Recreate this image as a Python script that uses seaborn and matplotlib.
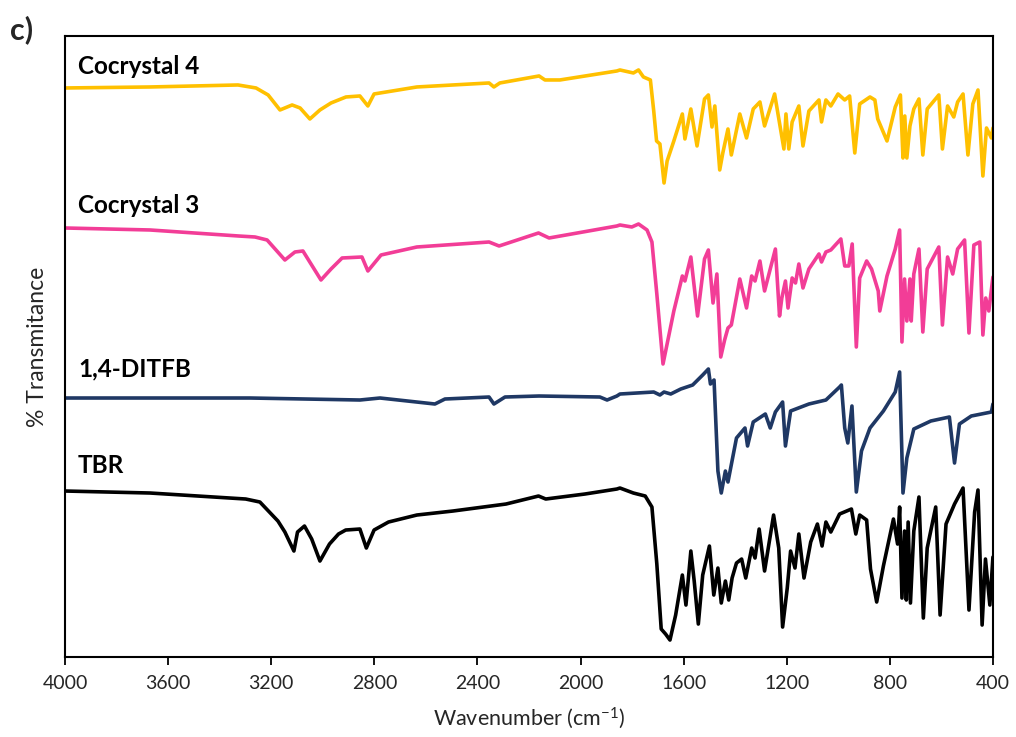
import numpy as np
import pandas as pd
import matplotlib
matplotlib.use("Agg")
import matplotlib.pyplot as plt
import seaborn as sns

# ---- FTIR spectra (wavenumber in cm-1, stacked transmittance in offset units) ----
cocrystal4_wn = [4000, 3670, 3329, 3259, 3212, 3166, 3119, 3088, 3050, 3011, 2968, 2910,
                 2856, 2825, 2801, 2635, 2355, 2336, 2313, 2161, 2138, 2080, 1859, 1847,
                 1795, 1775, 1756, 1729, 1716, 1705, 1692, 1676, 1664, 1638, 1605, 1595,
                 1572, 1548, 1519, 1504, 1490, 1479, 1460, 1448, 1428, 1415, 1382, 1356,
                 1330, 1304, 1286, 1247, 1211, 1203, 1192, 1179, 1153, 1137, 1114, 1075,
                 1065, 1048, 1029, 1001, 975, 956, 936, 917, 877, 858, 847, 811, 779, 759,
                 749, 742, 734, 722, 707, 687, 672, 655, 610, 596, 576, 552, 537, 516, 497,
                 478, 458, 439, 425, 406, 400]
cocrystal4_t = [56.9, 57.0, 57.2, 56.9, 56.2, 54.7, 55.2, 54.9, 53.8, 54.7, 55.4, 56.0,
                56.1, 55.1, 56.3, 57.0, 57.4, 57.0, 57.4, 58.1, 57.7, 57.7, 58.6, 58.7,
                58.4, 58.7, 58.0, 57.7, 54.6, 51.6, 51.3, 47.4, 49.6, 51.6, 54.3, 51.8,
                54.8, 51.1, 55.8, 56.2, 53.0, 55.1, 48.7, 50.4, 52.8, 50.2, 54.3, 51.9,
                54.8, 55.5, 53.1, 56.3, 50.8, 54.3, 50.8, 53.5, 55.1, 51.1, 54.6, 55.7,
                53.5, 55.7, 55.1, 56.3, 55.7, 56.1, 50.4, 55.3, 56.0, 55.7, 53.8, 51.6,
                55.0, 56.2, 49.9, 54.1, 49.9, 53.1, 54.8, 55.8, 50.2, 54.8, 56.2, 50.8,
                55.1, 54.0, 55.5, 56.3, 50.2, 55.3, 56.7, 48.1, 52.9, 51.9, 52.9]

cocrystal3_wn = [4000, 3670, 3327, 3263, 3216, 3147, 3108, 3077, 3007, 2968, 2925, 2848,
                 2825, 2774, 2635, 2355, 2316, 2163, 2122, 1859, 1847, 1801, 1775, 1742,
                 1723, 1704, 1680, 1657, 1638, 1605, 1595, 1572, 1546, 1519, 1504, 1486,
                 1471, 1456, 1441, 1428, 1415, 1382, 1356, 1336, 1323, 1304, 1286, 1244,
                 1228, 1219, 1205, 1195, 1179, 1166, 1153, 1137, 1114, 1075, 1065, 1048,
                 1029, 990, 975, 959, 946, 930, 917, 890, 871, 845, 839, 811, 779, 762,
                 753, 743, 734, 722, 717, 707, 687, 672, 655, 610, 596, 576, 556, 537,
                 510, 493, 474, 451, 439, 428, 416, 400]
cocrystal3_t = [42.9, 42.7, 42.1, 42.0, 41.7, 39.7, 40.5, 40.6, 37.7, 38.8, 39.9, 40.0,
                38.6, 40.2, 41.0, 41.5, 41.1, 42.4, 41.9, 43.1, 43.2, 43.0, 43.3, 42.7,
                41.5, 36.3, 29.3, 32.2, 34.6, 38.1, 37.6, 40.0, 34.1, 39.8, 40.7, 35.4,
                38.3, 30.0, 31.7, 32.9, 33.2, 37.8, 34.9, 38.1, 37.6, 39.6, 36.6, 40.8,
                34.1, 35.9, 37.6, 34.9, 37.9, 37.4, 39.3, 36.9, 38.8, 40.3, 39.5, 40.5,
                40.7, 41.8, 39.1, 39.1, 41.3, 31.0, 37.9, 39.6, 38.8, 36.6, 34.6, 38.1,
                40.8, 42.7, 31.5, 37.8, 33.6, 37.8, 33.6, 38.3, 40.8, 32.5, 38.8, 41.0,
                33.2, 40.0, 38.3, 40.8, 41.7, 32.4, 41.2, 41.5, 32.2, 35.9, 34.6, 38.0]

ditfb_wn = [4000, 3282, 2856, 2778, 2565, 2526, 2355, 2336, 2293, 2161, 1925, 1897, 1859,
            1847, 1716, 1692, 1676, 1650, 1611, 1565, 1526, 1504, 1496, 1482, 1467, 1454,
            1438, 1428, 1395, 1362, 1352, 1330, 1283, 1264, 1244, 1216, 1205, 1185, 1114,
            1048, 995, 988, 975, 963, 947, 930, 910, 877, 825, 779, 762, 749, 734, 707,
            641, 569, 549, 530, 484, 406, 400]
ditfb_t = [25.9, 25.9, 25.7, 25.9, 25.3, 25.8, 26.0, 25.3, 26.0, 26.1, 26.0, 25.7, 26.1,
           26.3, 26.5, 26.2, 26.5, 26.3, 26.8, 27.2, 28.2, 28.8, 27.3, 27.7, 18.6, 16.4,
           18.6, 17.5, 21.9, 22.9, 21.1, 23.5, 24.3, 22.9, 24.5, 25.5, 21.1, 24.6, 25.3,
           25.7, 27.0, 27.2, 22.9, 21.4, 25.1, 16.5, 20.6, 22.9, 24.6, 26.5, 28.5, 16.4,
           19.9, 22.8, 23.6, 24.0, 19.4, 23.3, 24.1, 24.5, 25.3]

tbr_wn = [4000, 3670, 3299, 3244, 3174, 3147, 3112, 3098, 3071, 3043, 3011, 2974, 2939,
          2911, 2856, 2831, 2801, 2745, 2635, 2495, 2289, 2163, 2135, 1983, 1859, 1847,
          1795, 1749, 1723, 1704, 1687, 1670, 1653, 1631, 1605, 1591, 1572, 1559, 1543,
          1526, 1500, 1483, 1467, 1454, 1438, 1425, 1412, 1395, 1375, 1359, 1336, 1323,
          1307, 1286, 1251, 1231, 1216, 1198, 1185, 1168, 1153, 1133, 1107, 1081, 1063,
          1048, 1029, 995, 949, 932, 917, 890, 875, 851, 825, 786, 770, 762, 753, 743,
          736, 729, 720, 707, 687, 670, 655, 622, 605, 582, 549, 516, 493, 471, 458, 442,
          429, 412, 400]
tbr_t = [16.6, 16.4, 15.8, 15.5, 13.6, 12.5, 10.6, 12.5, 13.1, 11.8, 9.6, 11.3, 12.3,
         12.7, 12.8, 10.9, 12.7, 13.5, 14.2, 14.6, 15.3, 16.1, 15.8, 16.3, 16.8, 16.9,
         16.4, 16.1, 15.0, 9.3, 2.8, 2.3, 1.7, 4.2, 8.2, 5.2, 10.6, 7.6, 3.3, 8.2, 11.1,
         6.2, 8.9, 5.4, 7.6, 5.7, 7.9, 9.4, 9.8, 7.9, 10.9, 9.9, 12.8, 8.6, 14.2, 10.9,
         3.0, 6.9, 10.6, 8.9, 12.3, 7.9, 11.5, 13.3, 11.1, 13.5, 12.5, 14.3, 14.8, 12.3,
         14.2, 13.7, 8.8, 5.5, 9.1, 13.8, 11.3, 15.0, 5.9, 12.6, 5.7, 13.5, 5.4, 12.6,
         16.0, 3.9, 10.9, 15.0, 4.2, 13.3, 15.3, 16.9, 4.7, 14.5, 16.7, 3.2, 9.8, 5.2,
         10.0]

series_names = ["Cocrystal 4", "Cocrystal 3", "1,4-DITFB", "TBR"]
series_wn = [cocrystal4_wn, cocrystal3_wn, ditfb_wn, tbr_wn]
series_t = [cocrystal4_t, cocrystal3_t, ditfb_t, tbr_t]
series_colors = ["#FFC000", "#F23D97", "#1F3864", "#000000"]
label_y = [59.0, 45.1, 28.8, 19.2]

tick_values = [4000, 3600, 3200, 2800, 2400, 2000, 1600, 1200, 800, 400]

# ---- style ----
sns.set_theme(style="white")
plt.rcParams["font.family"] = ["Lato", "DejaVu Sans"]
plt.rcParams["mathtext.fontset"] = "custom"
plt.rcParams["mathtext.rm"] = "Lato"
plt.rcParams["mathtext.default"] = "regular"

fig = plt.figure(figsize=(10.16, 7.37), dpi=100)
ax = fig.add_axes([0.064, 0.1085, 0.9133, 0.8427])

frames = []
for name, wn, t in zip(series_names, series_wn, series_t):
    frames.append(pd.DataFrame({"wavenumber": wn, "transmittance": t, "sample": name}))
df = pd.concat(frames, ignore_index=True)

for name, color in zip(series_names, series_colors):
    sub = df[df["sample"] == name]
    sns.lineplot(data=sub, x="wavenumber", y="transmittance", color=color,
                 linewidth=2.6, sort=False, estimator=None, ax=ax, legend=False)

for name, y in zip(series_names, label_y):
    ax.text(3950, y, name, fontsize=17.5, fontweight="bold", color="black",
            ha="left", va="center")

ax.set_xlim(4000, 400)
ax.set_ylim(0, 62.1)
ax.set_xticks(tick_values)
ax.set_xticklabels([str(v) for v in tick_values], fontsize=14, color="#262626")
ax.set_yticks([])
ax.tick_params(axis="x", direction="out", length=6, width=1.3, color="black",
               bottom=True, pad=7)
for side in ["left", "right", "top", "bottom"]:
    ax.spines[side].set_color("black")
    ax.spines[side].set_linewidth(1.5)

ax.set_xlabel("Wavenumber (cm$^{-1}$)", fontsize=15.5, labelpad=10, color="#262626")
ax.set_ylabel("% Transmitance", fontsize=16.5, labelpad=12, color="#262626")

fig.text(0.01, 0.96, "c)", fontsize=22, fontweight="bold", ha="left", va="center")

fig.savefig("out.png", dpi=100)
